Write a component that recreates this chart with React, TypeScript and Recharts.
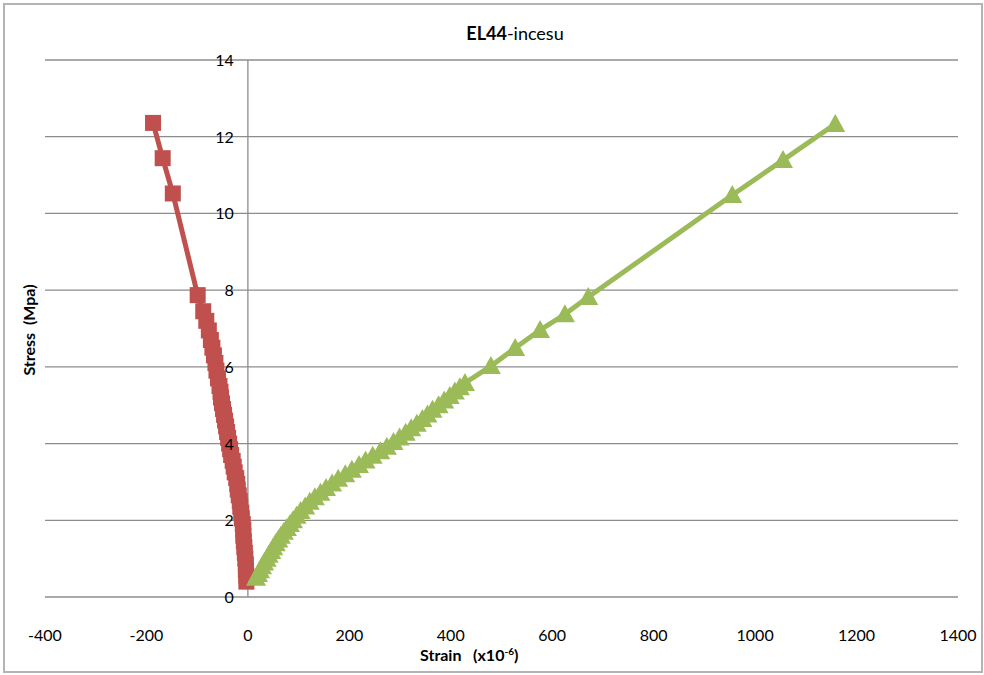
import { CartesianGrid, ReferenceLine, Scatter, ScatterChart, XAxis, YAxis } from "recharts";

const redStress = [
  0.4, 0.55, 0.7, 0.85, 1.0, 1.15, 1.3, 1.45, 1.6, 1.75, 1.9, 2.05, 2.2, 2.35, 2.5, 2.65, 2.8, 2.95, 3.1, 3.25,
  3.4, 3.55, 3.7, 3.85, 4.0, 4.15, 4.3, 4.45, 4.6, 4.75, 4.9, 5.05, 5.2, 5.35, 5.5, 5.7, 5.9, 6.1, 6.3, 6.5,
  6.7, 6.95, 7.2, 7.45, 7.87, 10.52, 11.44, 12.36
];
const redStrain = [
  -3, -3, -4, -4, -5, -6, -7, -8, -9, -9, -10, -12, -13, -15, -16, -18, -20, -21, -23, -26,
  -28, -30, -33, -35, -37, -39, -41, -43, -45, -47, -49, -51, -53, -54, -56, -59, -62, -64, -67, -70,
  -73, -77, -82, -88, -99, -148, -168, -187
];

const greenStress = [
  0.5, 0.6, 0.7, 0.8, 0.9, 1.0, 1.1, 1.2, 1.3, 1.4, 1.5, 1.6, 1.7, 1.8, 1.9, 2.0, 2.12, 2.24, 2.36, 2.48,
  2.6, 2.72, 2.84, 2.96, 3.08, 3.2, 3.32, 3.44, 3.56, 3.68, 3.8, 3.92, 4.04, 4.16, 4.28, 4.4, 4.52, 4.64, 4.76, 4.88,
  5.0, 5.12, 5.24, 5.36, 5.47, 5.58, 6.02, 6.49, 6.96, 7.37, 7.82, 10.48, 11.39, 12.33
];
const greenStrain = [
  16, 20, 24, 28, 32, 37, 41, 46, 50, 55, 60, 65, 71, 77, 83, 89, 96, 104, 113, 122,
  132, 143, 154, 166, 178, 192, 205, 219, 232, 246, 261, 274, 287, 299, 311, 322, 333, 344, 354, 364,
  376, 387, 398, 408, 418, 428, 479, 527, 576, 625, 671, 955, 1055, 1158
];

const xTicks = [-400, -200, 0, 200, 400, 600, 800, 1000, 1200, 1400];
const yTicks = [0, 2, 4, 6, 8, 10, 12, 14];

const redData = redStress.map((s, i) => ({ strain: redStrain[i], stress: s }));
const greenData = greenStress.map((s, i) => ({ strain: greenStrain[i], stress: s }));

const FONT = "Lato, 'DejaVu Sans', sans-serif";
const W = 984;
const H = 675;
const M = { top: 60, right: 26, bottom: 0, left: 44 };
const X_MIN = -400;
const X_MAX = 1400;
// pixel position of x=0, where the value axis crosses
const zeroX = M.left + 1 + ((0 - X_MIN) / (X_MAX - X_MIN)) * (W - M.left - 1 - M.right);

const RedSquare = (props: any) => (
  <rect x={props.cx - 8} y={props.cy - 8} width={16} height={16} fill="#c0504d" />
);
const GreenTriangle = (props: any) => (
  <polygon
    points={`${props.cx},${props.cy - 10} ${props.cx + 10},${props.cy + 8} ${props.cx - 10},${props.cy + 8}`}
    fill="#9bbb59"
  />
);

const XTick = (props: any) => (
  <text x={props.x} y={props.y + 36} textAnchor="middle" fontSize={16} fontFamily={FONT} fill="#000">
    {props.payload.value}
  </text>
);
const YTick = (props: any) => (
  <text x={zeroX - 14} y={props.y + 6} textAnchor="end" fontSize={16} fontFamily={FONT} fill="#000">
    {props.payload.value}
  </text>
);

export default function App() {
  return (
    <div style={{ position: "absolute", left: 0, top: 0, width: W, height: H, background: "#fff" }}>
      <div
        style={{
          position: "absolute",
          left: 3,
          top: 3,
          width: 976,
          height: 666,
          border: "2px solid #b4b4b4"
        }}
      />
      <div
        style={{
          position: "absolute",
          left: 0,
          top: 22,
          width: 1030,
          textAlign: "center",
          fontFamily: FONT,
          fontSize: 18,
          color: "#000"
        }}
      >
        <span style={{ fontWeight: 700 }}>EL44</span>-incesu
      </div>
      <div
        style={{
          position: "absolute",
          left: 28,
          top: 330,
          transform: "translate(-50%, -50%) rotate(-90deg)",
          whiteSpace: "pre",
          fontFamily: FONT,
          fontSize: 16,
          fontWeight: 700
        }}
      >
        {"Stress  (Mpa)"}
      </div>
      <div
        style={{
          position: "absolute",
          left: 420,
          top: 645,
          whiteSpace: "pre",
          fontFamily: FONT,
          fontSize: 16,
          fontWeight: 700
        }}
      >
        {"Strain   (x10"}
        <sup style={{ fontSize: 10 }}>-6</sup>
        {")"}
      </div>
      <div style={{ position: "absolute", left: 0, top: 0 }}>
        <ScatterChart width={W} height={H} margin={M}>
          <CartesianGrid vertical={false} stroke="#8c8c8c" strokeWidth={1.3} />
          <XAxis
            type="number"
            dataKey="strain"
            domain={[X_MIN, X_MAX]}
            ticks={xTicks}
            interval={0}
            axisLine={false}
            tickLine={false}
            height={78}
            tick={<XTick />}
          />
          <YAxis
            type="number"
            dataKey="stress"
            domain={[0, 14]}
            ticks={yTicks}
            interval={0}
            axisLine={false}
            tickLine={false}
            width={1}
            tick={<YTick />}
          />
          <ReferenceLine x={0} stroke="#8c8c8c" strokeWidth={1.3} />
          <Scatter
            data={redData}
            line={{ stroke: "#c0504d", strokeWidth: 5 }}
            shape={RedSquare}
            isAnimationActive={false}
          />
          <Scatter
            data={greenData}
            line={{ stroke: "#9bbb59", strokeWidth: 5 }}
            shape={GreenTriangle}
            isAnimationActive={false}
          />
        </ScatterChart>
      </div>
    </div>
  );
}
